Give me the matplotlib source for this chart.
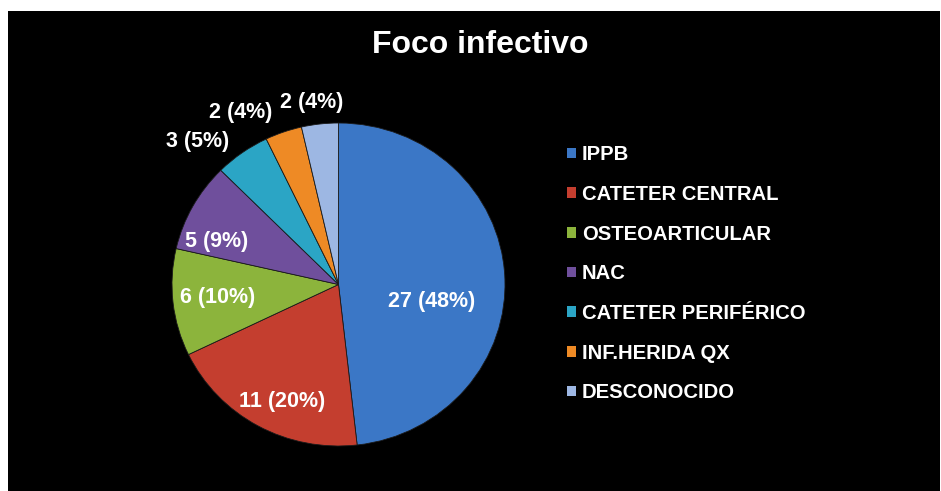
import matplotlib.pyplot as plt
import matplotlib.patches as mpatches
import numpy as np

plt.rcParams['font.family'] = ['Liberation Sans', 'DejaVu Sans']

# infection source counts
categories = ['IPPB', 'CATETER CENTRAL', 'OSTEOARTICULAR', 'NAC',
              'CATETER PERIFÉRICO', 'INF.HERIDA QX', 'DESCONOCIDO']
counts = [27, 11, 6, 5, 3, 2, 2]
pct_text = ['48%', '20%', '10%', '9%', '5%', '4%', '4%']
colors = ['#3b77c6', '#c43e2f', '#8cb43c', '#6f4f9c',
          '#2ba5c5', '#ee8a25', '#9db7e3']

# where each data label sits: radius and angle nudge (deg) from the wedge middle
label_r = [0.57, 0.80, 0.73, 0.78, 1.225, 1.218, 1.141]
label_dang = [-14, 4, 0, 9, 8.5, 9.5, 1.6]

fig = plt.figure(figsize=(9.41, 4.91), dpi=100, facecolor='white')
W, H = 941, 491

# black slide background
bg = fig.add_axes([8 / W, 0, (940 - 8) / W, (491 - 11) / H])
bg.set_facecolor('black')
bg.set_xticks([])
bg.set_yticks([])
for s in bg.spines.values():
    s.set_visible(False)

fig.text(480 / W, 1 - 45 / H, 'Foco infectivo', color='white',
         fontsize=23, fontweight='bold', ha='center', va='center')

# pie axes, slightly wider than tall
cx, cy, rw, rh = 338.5, 284.5, 166.5, 161.5
ax = fig.add_axes([(cx - rw) / W, 1 - (cy + rh) / H, 2 * rw / W, 2 * rh / H])
wedges, _ = ax.pie(counts, colors=colors, startangle=90, counterclock=False,
                   wedgeprops=dict(edgecolor='#1a1a1a', linewidth=0.6))
ax.set_aspect('auto')
ax.set_xlim(-1, 1)
ax.set_ylim(-1, 1)
ax.axis('off')

for w, n, p, r, da in zip(wedges, counts, pct_text, label_r, label_dang):
    ang = np.deg2rad((w.theta1 + w.theta2) / 2 + da)
    ax.text(r * np.cos(ang), r * np.sin(ang), f'{n} ({p})', color='white',
            fontsize=15.5, fontweight='bold', ha='center', va='center',
            clip_on=False)

# legend with small square keys
handles = [mpatches.Patch(facecolor=c, edgecolor='none') for c in colors]
leg = fig.legend(handles, categories, loc='upper left',
                 bbox_to_anchor=(549 / W, 1 - 127 / H), frameon=False,
                 handlelength=0.42, handleheight=0.42, handletextpad=0.3,
                 labelspacing=1.02, prop=dict(weight='bold', size=14.6))
for t in leg.get_texts():
    t.set_color('white')

fig.savefig('out.png', dpi=100, facecolor='white')
